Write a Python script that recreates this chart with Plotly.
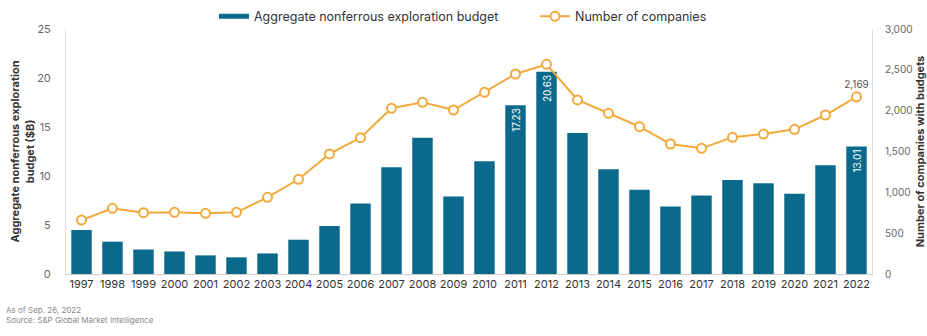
import plotly.graph_objects as go

years = [str(y) for y in range(1997, 2023)]
budget = [4.5, 3.3, 2.5, 2.3, 1.9, 1.7, 2.1, 3.5, 4.9, 7.2, 10.9, 13.9, 7.9, 11.5,
          17.23, 20.63, 14.4, 10.7, 8.6, 6.9, 8.0, 9.6, 9.25, 8.2, 11.1, 13.01]
companies = [660, 804, 751, 755, 743, 755, 939, 1160, 1470, 1669, 2029, 2102, 2008,
             2225, 2449, 2568, 2131, 1968, 1804, 1592, 1539, 1674, 1714, 1772, 1947, 2169]
labelled_bars = {"2011": "17.23", "2012": "20.63", "2022": "13.01"}

BAR = "#0b6a8b"
LINE = "#f2a93b"
FONT = "Inter, Roboto, sans-serif"

bar_text = [labelled_bars.get(y, "") for y in years]
line_text = ["" for _ in years]
line_text[-1] = f"{companies[-1]:,}"

fig = go.Figure()
fig.add_trace(go.Bar(
    x=years, y=budget, name="Aggregate nonferrous exploration budget",
    marker=dict(color=BAR, line=dict(width=0)), width=0.66, showlegend=False,
    text=bar_text, textposition="inside", insidetextanchor="end", textangle=-90,
    textfont=dict(color="white", size=10, family=FONT), cliponaxis=False,
))
# legend key for the bars (wide thin swatch like the reference)
fig.add_trace(go.Scatter(
    x=[None], y=[None], name="Aggregate nonferrous exploration budget",
    mode="lines", line=dict(color=BAR, width=5), hoverinfo="skip",
))
fig.add_trace(go.Scatter(
    x=years, y=companies, name="Number of companies", yaxis="y2",
    mode="lines+markers+text", text=line_text, textposition="top center",
    textfont=dict(color="#555555", size=10, family=FONT),
    line=dict(color=LINE, width=2),
    marker=dict(size=9, color="white", line=dict(color=LINE, width=2)),
    cliponaxis=False,
))

fig.update_layout(
    width=927, height=336,
    margin=dict(l=66, r=55, t=29, b=62, autoexpand=False),
    paper_bgcolor="white", plot_bgcolor="white",
    font=dict(family=FONT, size=10, color="#555555"),
    showlegend=True,
    legend=dict(orientation="h", x=214/927, y=0.995, xanchor="left", yanchor="top",
                yref="container", xref="container",
                font=dict(size=12.5, color="#333333"),
                itemwidth=30, entrywidth=276, entrywidthmode="pixels",
                tracegroupgap=0, bgcolor="rgba(0,0,0,0)"),
    xaxis=dict(type="category", range=[-0.5, 25.5], showgrid=False, showline=True,
               linecolor="#cccccc", ticks="",
               tickfont=dict(size=11, color="#333333"), tickangle=0,
               automargin=False),
    yaxis=dict(range=[0, 25], tickvals=[0, 5, 10, 15, 20, 25], showgrid=False,
               showline=True, linecolor="#dddddd", zeroline=False, ticks="",
               tickfont=dict(size=11, color="#666666"),
               ticklabelstandoff=12, automargin=False,
               title=dict(text="<b>Aggregate nonferrous exploration<br>budget ($B)</b>",
                          font=dict(size=11, color="#333333"), standoff=0)),
    yaxis2=dict(range=[0, 3000], tickvals=[0, 500, 1000, 1500, 2000, 2500, 3000],
                tickformat=",", overlaying="y", side="right", showgrid=False,
                showline=True, linecolor="#dddddd", zeroline=False, ticks="",
                tickfont=dict(size=10, color="#666666"),
                ticklabelstandoff=10, automargin=False,
                title=dict(text="<b>Number of companies with budgets</b>",
                           font=dict(size=11, color="#333333"), standoff=20)),
)

fig.add_annotation(text="As of Sep. 26, 2022<br>Source: S&P Global Market Intelligence",
                   xref="paper", yref="paper", x=-62/806, y=-0.12, xanchor="left",
                   yanchor="top", align="left", showarrow=False,
                   font=dict(size=8, color="#888888", family=FONT))

fig.write_html("out.html")
